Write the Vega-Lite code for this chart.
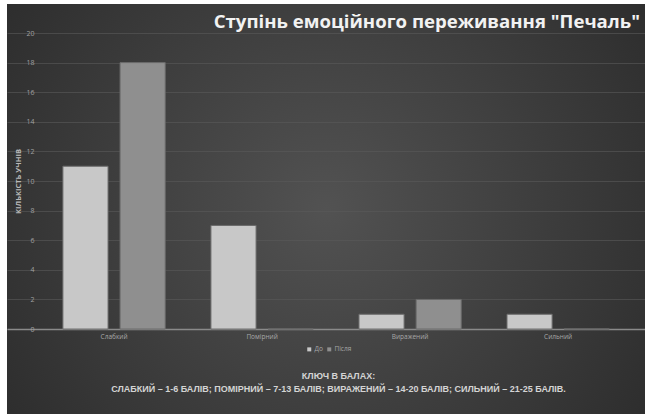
{
  "$schema": "https://vega.github.io/schema/vega-lite/v6.json",
  "width": 638,
  "height": 410,
  "autosize": {"type": "none"},
  "padding": {"left": 7, "top": 4, "right": 0, "bottom": 0},
  "background": "#ffffff",
  "title": {
    "text": "Ступінь емоційного переживання \"Печаль\"",
    "anchor": "end",
    "frame": "group",
    "offset": -28,
    "dx": -5,
    "font": "Open Sans",
    "fontSize": 18.6,
    "fontWeight": "bold",
    "color": "#f2f2f2"
  },
  "data": {
    "values": [
      {"level": "Слабкий", "group": "До", "value": 11},
      {"level": "Слабкий", "group": "Після", "value": 18},
      {"level": "Помірний", "group": "До", "value": 7},
      {"level": "Помірний", "group": "Після", "value": 0},
      {"level": "Виражений", "group": "До", "value": 1},
      {"level": "Виражений", "group": "Після", "value": 2},
      {"level": "Сильний", "group": "До", "value": 1},
      {"level": "Сильний", "group": "Після", "value": 0}
    ]
  },
  "mark": {"type": "bar", "stroke": "#6a6a6a", "strokeWidth": 1},
  "encoding": {
    "x": {
      "field": "level",
      "type": "nominal",
      "sort": ["Слабкий", "Помірний", "Виражений", "Сильний"],
      "scale": {"paddingInner": 0, "paddingOuter": 0.155, "align": 0.72},
      "axis": {
        "orient": "bottom",
        "offset": -85,
        "labelAngle": 0,
        "labelFont": "Open Sans",
        "labelFontSize": 6.5,
        "labelColor": "#a8a8a8",
        "labelPadding": 4,
        "ticks": false,
        "domainColor": "#8a8a8a",
        "domainWidth": 1.5,
        "title": ["КЛЮЧ В БАЛАХ:", "СЛАБКИЙ – 1-6 БАЛІВ; ПОМІРНИЙ – 7-13 БАЛІВ; ВИРАЖЕНИЙ – 14-20 БАЛІВ; СИЛЬНИЙ – 21-25 БАЛІВ."],
        "titleFont": "Liberation Sans",
        "titleFontSize": 9,
        "titleFontWeight": "bold",
        "titleColor": "#d4d4d4",
        "titleLineHeight": 13,
        "titlePadding": 32,
        "titleX": 331
      }
    },
    "xOffset": {
      "field": "group",
      "type": "nominal",
      "sort": ["До", "Після"],
      "scale": {"paddingInner": 0.21, "paddingOuter": 0.4}
    },
    "y": {
      "field": "value",
      "type": "quantitative",
      "stack": null,
      "scale": {"domain": [-5.74, 21.96], "nice": false, "zero": false},
      "axis": {
        "values": [0, 2, 4, 6, 8, 10, 12, 14, 16, 18, 20],
        "offset": -28,
        "domain": false,
        "ticks": false,
        "labelFont": "Open Sans",
        "labelFontSize": 7,
        "labelColor": "#a0a0a0",
        "labelPadding": 1,
        "gridColor": "#5a5a5a",
        "gridOpacity": 0.6,
        "gridWidth": 1,
        "title": "КІЛЬКІСТЬ УЧНІВ",
        "titleFont": "Open Sans",
        "titleFontSize": 7.5,
        "titleFontWeight": "bold",
        "titleColor": "#b8b8b8",
        "titlePadding": 3,
        "titleY": 177
      }
    },
    "y2": {"datum": 0},
    "color": {
      "field": "group",
      "type": "nominal",
      "sort": ["До", "Після"],
      "scale": {"domain": ["До", "Після"], "range": ["#c8c8c8", "#8f8f8f"]},
      "legend": {
        "orient": "none",
        "legendX": 299,
        "legendY": 342,
        "direction": "horizontal",
        "title": null,
        "symbolType": "square",
        "symbolSize": 16,
        "symbolStrokeWidth": 0,
        "labelFont": "Open Sans",
        "labelFontSize": 6.5,
        "labelColor": "#a8a8a8",
        "columnPadding": 3,
        "labelOffset": 2
      }
    }
  },
  "config": {
    "view": {
      "stroke": null,
      "fill": {
        "gradient": "radial",
        "x1": 0.5, "y1": 0.5, "r1": 0,
        "x2": 0.5, "y2": 0.5, "r2": 0.72,
        "stops": [
          {"offset": 0, "color": "#525252"},
          {"offset": 1, "color": "#262626"}
        ]
      }
    }
  }
}
